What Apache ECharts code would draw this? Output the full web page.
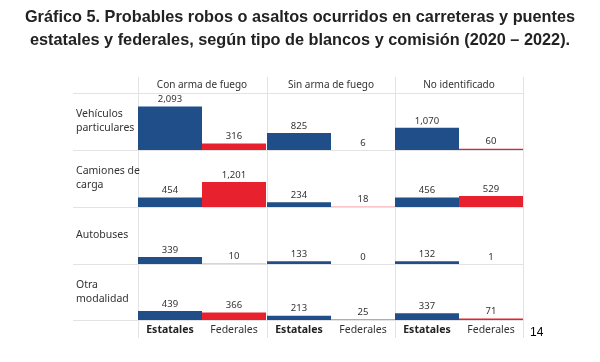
<!DOCTYPE html>
<html><head><meta charset="utf-8">
<script src="https://cdn.jsdelivr.net/npm/echarts@6/dist/echarts.min.js"></script>
<style>html,body{margin:0;padding:0;background:#fff}#c{width:600px;height:362px}</style>
</head><body><div id="c"></div>
<script>
// ---- data ----
const categories = ['Estatales', 'Federales'];
const columnHeaders = ['Con arma de fuego', 'Sin arma de fuego', 'No identificado'];
const rowLabels = ['Vehículos\nparticulares', 'Camiones de\ncarga', 'Autobuses', 'Otra\nmodalidad'];
// values per column: [Vehículos particulares, Camiones de carga, Autobuses, Otra modalidad]
const estatalesConArma = [2093, 454, 339, 439];
const federalesConArma = [316, 1201, 10, 366];
const estatalesSinArma = [825, 234, 133, 213];
const federalesSinArma = [6, 18, 0, 25];
const estatalesNoIdent = [1070, 456, 132, 337];
const federalesNoIdent = [60, 529, 1, 71];

const estatales = [estatalesConArma, estatalesSinArma, estatalesNoIdent];
const federales = [federalesConArma, federalesSinArma, federalesNoIdent];

// ---- layout ----
const colLeft = [138, 267, 395];
const colWidth = 128;
const rowTop = [93, 150, 207, 264];
const rowH = [57, 57, 57, 56];
const tableRight = 523;
const blue = '#1F4E89';
const red = '#E8212F';
const font = '"Noto Sans", "Open Sans", sans-serif';
const titleFont = '"Liberation Sans", Arial, sans-serif';

const grids = [], xAxes = [], yAxes = [], series = [];
let gi = 0;
for (let r = 0; r < 4; r++) {
  for (let c = 0; c < 3; c++) {
    grids.push({ left: colLeft[c], top: rowTop[r], width: colWidth, height: rowH[r], containLabel: false });
    xAxes.push({
      type: 'category', gridIndex: gi, data: categories,
      axisLine: { show: false }, axisTick: { show: false },
      axisLabel: {
        show: r === 3, interval: 0, margin: 5, fontSize: 10.5, fontFamily: font, color: '#333',
        formatter: v => v === 'Estatales' ? '{b|' + v + '}' : '{n|' + v + '}',
        rich: { b: { fontWeight: 'bold', fontSize: 10.5, fontFamily: font, color: '#222' },
                n: { fontSize: 10.5, fontFamily: font, color: '#333' } }
      }
    });
    yAxes.push({ type: 'value', gridIndex: gi, min: 0, max: 2750, show: false, splitLine: { show: false } });
    series.push({
      type: 'bar', xAxisIndex: gi, yAxisIndex: gi,
      barWidth: '100%', barCategoryGap: 0,
      data: [
        { value: estatales[c][r], itemStyle: { color: blue } },
        { value: federales[c][r], itemStyle: { color: red } }
      ],
      label: {
        show: true, position: 'top', distance: 2, fontSize: 9.5, fontFamily: font, color: '#333',
        formatter: p => p.value.toLocaleString('en-US')
      },
      silent: true, animation: false
    });
    gi++;
  }
}

const graphics = [];
const lineStyle = { stroke: '#e3e3e3', lineWidth: 1 };
[93, 150, 207, 264, 320].forEach(y => {
  graphics.push({ type: 'line', shape: { x1: 73, y1: y + 0.5, x2: tableRight, y2: y + 0.5 }, style: lineStyle, z: -1 });
});
[138, 267, 395, 523].forEach(x => {
  graphics.push({ type: 'line', shape: { x1: x + 0.5, y1: 77, x2: x + 0.5, y2: 338 }, style: lineStyle, z: -1 });
});
columnHeaders.forEach((t, c) => {
  graphics.push({ type: 'text', x: colLeft[c] + colWidth / 2, y: 85,
    style: { text: t, fontSize: 10, fontFamily: font, fill: '#333', align: 'center', verticalAlign: 'middle' } });
});
rowLabels.forEach((t, r) => {
  graphics.push({ type: 'text', x: 76, y: rowTop[r] + rowH[r] / 2,
    style: { text: t, fontSize: 10.5, lineHeight: 14, fontFamily: font, fill: '#333', align: 'left', verticalAlign: 'middle' } });
});
graphics.push({ type: 'text', x: 530, y: 333,
  style: { text: '14', fontSize: 12, fontFamily: titleFont, fill: '#000', align: 'left', verticalAlign: 'middle' } });
// title
graphics.push({ type: 'text', x: 300, y: 29,
  style: { text: 'Gráfico 5. Probables robos o asaltos ocurridos en carreteras y puentes\nestatales y federales, según tipo de blancos y comisión (2020 – 2022).',
    fontSize: 16.3, fontWeight: 'bold', lineHeight: 23, fontFamily: titleFont, fill: '#222', align: 'center', verticalAlign: 'middle' } });

const chart = echarts.init(document.getElementById('c'), null, { renderer: 'canvas' });
chart.setOption({
  animation: false,
  grid: grids, xAxis: xAxes, yAxis: yAxes, series: series,
  graphic: graphics
});
</script></body></html>
